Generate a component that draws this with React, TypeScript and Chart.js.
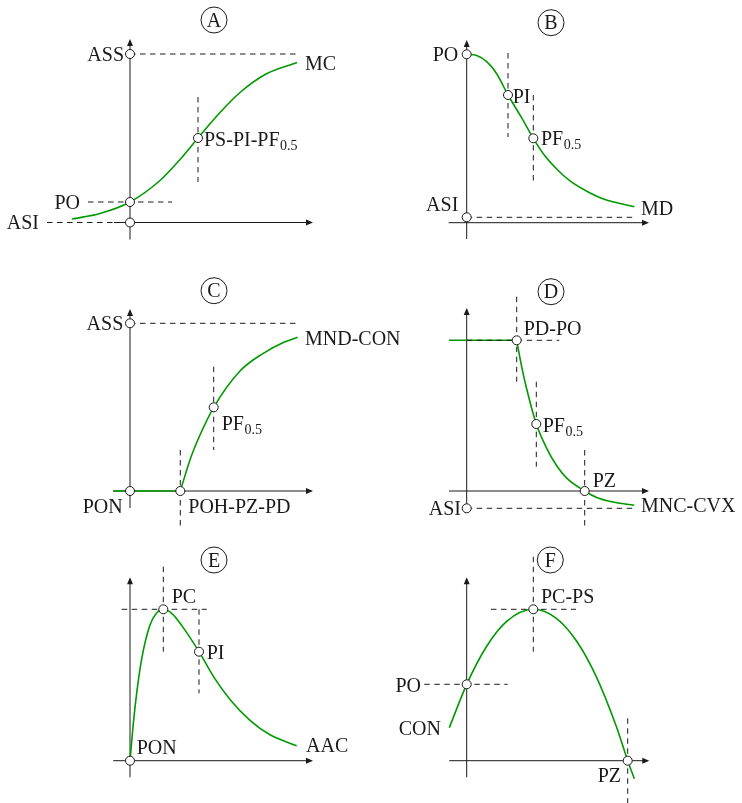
import React, { useEffect, useRef } from "react";
import { Chart, registerables } from "chart.js";

Chart.register(...registerables);

type P = { x: number; y: number };

// ---- Values (units of the drawing grid, origin at the axes' crossing) ----

// A: sigmoid between ASI and ASS
const A_CURVE: P[] = [
  { x: -5.8, y: 0.35 }, { x: -3, y: 0.9 }, { x: 0, y: 2.05 }, { x: 3, y: 4.2 },
  { x: 5, y: 6.3 }, { x: 6.8, y: 8.45 }, { x: 9, y: 11.0 }, { x: 11, y: 13.0 },
  { x: 13.6, y: 14.85 }, { x: 16.7, y: 16.0 },
];
const A_MARKERS: P[] = [{ x: 0, y: 16.85 }, { x: 0, y: 2.05 }, { x: 0, y: 0 }, { x: 6.8, y: 8.45 }];
const A_GUIDES: P[][] = [
  [{ x: 0, y: 16.85 }, { x: 16.8, y: 16.85 }],
  [{ x: -8.3, y: 0 }, { x: 0, y: 0 }],
  [{ x: -4.2, y: 2.05 }, { x: 4.2, y: 2.05 }],
  [{ x: 6.8, y: 12.55 }, { x: 6.8, y: 4.05 }],
];

// B: decreasing sigmoid from PO towards ASI
const B_CURVE: P[] = [
  { x: 0, y: 16.84 }, { x: 1, y: 16.72 }, { x: 2, y: 16.1 }, { x: 3, y: 14.9 },
  { x: 4.13, y: 12.77 }, { x: 5.43, y: 10.6 }, { x: 6.66, y: 8.44 }, { x: 7.76, y: 6.77 },
  { x: 9.1, y: 5.27 }, { x: 10.43, y: 4.1 }, { x: 12.1, y: 3.1 }, { x: 13.76, y: 2.34 },
  { x: 16.76, y: 1.6 },
];
const B_MARKERS: P[] = [{ x: 0, y: 16.84 }, { x: 4.13, y: 12.77 }, { x: 6.66, y: 8.44 }, { x: 0, y: 0.54 }];
const B_GUIDES: P[][] = [
  [{ x: 0, y: 0.54 }, { x: 16.73, y: 0.54 }],
  [{ x: 4.13, y: 16.97 }, { x: 4.13, y: 8.57 }],
  [{ x: 6.66, y: 12.77 }, { x: 6.66, y: 4.07 }],
];

// C: zero response until POH, then concave rise to ASS
const C_FLAT: P[] = [{ x: -1.7, y: 0 }, { x: 5.03, y: 0 }];
const C_CURVE: P[] = [
  { x: 5.03, y: 0 }, { x: 6.1, y: 3.4 }, { x: 7, y: 5.6 }, { x: 8.37, y: 8.37 },
  { x: 11, y: 12.0 }, { x: 13.33, y: 13.77 }, { x: 15.33, y: 14.85 }, { x: 16.77, y: 15.37 },
];
const C_MARKERS: P[] = [{ x: 0, y: 16.77 }, { x: 0, y: 0 }, { x: 5.03, y: 0 }, { x: 8.37, y: 8.37 }];
const C_GUIDES: P[][] = [
  [{ x: 0, y: 16.77 }, { x: 16.8, y: 16.77 }],
  [{ x: 5.03, y: 4.1 }, { x: 5.03, y: -3.9 }],
  [{ x: 8.37, y: 12.43 }, { x: 8.37, y: 4.1 }],
];

// D: plateau until PD, then convex decay below zero towards ASI
const D_FLAT: P[] = [{ x: -1.77, y: 15.07 }, { x: 5, y: 15.07 }];
const D_CURVE: P[] = [
  { x: 5, y: 15.07 }, { x: 5.5, y: 12.42 }, { x: 6, y: 10.2 }, { x: 6.96, y: 6.7 },
  { x: 8, y: 4.27 }, { x: 9, y: 2.53 }, { x: 10, y: 1.29 }, { x: 11.8, y: 0 },
  { x: 13, y: -0.65 }, { x: 14.5, y: -1.08 }, { x: 16.76, y: -1.43 },
];
const D_MARKERS: P[] = [{ x: 5, y: 15.07 }, { x: 6.96, y: 6.7 }, { x: 11.8, y: 0 }, { x: 0, y: -1.73 }];
const D_GUIDES: P[][] = [
  [{ x: 0, y: 15.07 }, { x: 9.26, y: 15.07 }],
  [{ x: 5, y: 19.43 }, { x: 5, y: 10.93 }],
  [{ x: 6.96, y: 10.93 }, { x: 6.96, y: 2.43 }],
  [{ x: 11.8, y: 4.1 }, { x: 11.8, y: -3.9 }],
  [{ x: 0, y: -1.73 }, { x: 16.73, y: -1.73 }],
];

// E: fast rise to PC, then slow decline
const E_CURVE: P[] = [
  { x: 0, y: 0 }, { x: 0.3, y: 3.39 }, { x: 0.7, y: 7.0 }, { x: 1.2, y: 10.35 },
  { x: 2, y: 13.56 }, { x: 2.7, y: 14.83 }, { x: 3.33, y: 15.14 }, { x: 4.2, y: 14.71 },
  { x: 5.2, y: 13.48 }, { x: 6.9, y: 10.9 }, { x: 8.5, y: 8.18 }, { x: 10, y: 6.13 },
  { x: 12, y: 4.04 }, { x: 14, y: 2.59 }, { x: 16.67, y: 1.5 },
];
const E_MARKERS: P[] = [{ x: 0, y: 0 }, { x: 3.33, y: 15.14 }, { x: 6.9, y: 10.9 }];
const E_GUIDES: P[][] = [
  [{ x: -0.83, y: 15.14 }, { x: 7.67, y: 15.14 }],
  [{ x: 3.33, y: 19.4 }, { x: 3.33, y: 10.9 }],
  [{ x: 6.9, y: 15.14 }, { x: 6.9, y: 6.74 }],
];

// F: concave arch through PO, peak PC-PS, crossing zero at PZ
const F_CURVE: P[] = [
  { x: -1.74, y: 3.3 }, { x: 0, y: 7.64 }, { x: 2, y: 11.45 }, { x: 4, y: 13.94 },
  { x: 6.66, y: 15.14 }, { x: 9, y: 14.21 }, { x: 11, y: 11.94 }, { x: 13, y: 8.31 },
  { x: 15, y: 3.32 }, { x: 16.1, y: 0 }, { x: 16.76, y: -1.8 },
];
const F_MARKERS: P[] = [{ x: 0, y: 7.64 }, { x: 6.66, y: 15.14 }, { x: 16.1, y: 0 }];
const F_GUIDES: P[][] = [
  [{ x: 2.43, y: 15.14 }, { x: 10.93, y: 15.14 }],
  [{ x: 6.66, y: 20.4 }, { x: 6.66, y: 10.9 }],
  [{ x: -4.24, y: 7.64 }, { x: 4.1, y: 7.64 }],
  [{ x: 16.1, y: 4.24 }, { x: 16.1, y: -4.23 }],
];

// ---- Layout ----

type Label = { text: string; sub?: string; x: number; y: number; align: "left" | "right" };
type Panel = {
  title: string;
  titleAt: P;
  left: number;
  top: number;
  width: number;
  height: number;
  originX: number;
  originY: number;
  xAxis: [number, number];
  yAxis: [number, number];
  curves: P[][];
  markers: P[];
  guides: P[][];
  labels: Label[];
};

const UNIT = 10; // pixels per grid unit
const COL = 371;
const GREEN = "rgb(0,153,0)";
const INK = "#1a1a1a";
const FONT = '"Liberation Serif", "Times New Roman", serif';
const FONT_SIZE = 20;
const SUB_SIZE = 14;

const PANELS: Panel[] = [
  {
    title: "A", titleAt: { x: 8.4, y: 20.25 }, left: 0, top: 0, width: 440, height: 268,
    originX: 130, originY: 222.5, xAxis: [-1.6, 18.3], yAxis: [-1.7, 18.35],
    curves: [A_CURVE], markers: A_MARKERS, guides: A_GUIDES,
    labels: [
      { text: "ASS", x: -0.6, y: 16.85, align: "right" },
      { text: "PO", x: -5.0, y: 2.05, align: "right" },
      { text: "ASI", x: -9.1, y: 0, align: "right" },
      { text: "MC", x: 17.5, y: 15.95, align: "left" },
      { text: "PS-PI-PF", sub: "0.5", x: 7.4, y: 8.3, align: "left" },
    ],
  },
  {
    title: "B", titleAt: { x: 8.43, y: 20.0 }, left: COL, top: 0, width: COL, height: 268,
    originX: 95.7, originY: 222.7, xAxis: [-1.8, 18.23], yAxis: [-1.63, 18.27],
    curves: [B_CURVE], markers: B_MARKERS, guides: B_GUIDES,
    labels: [
      { text: "PO", x: -0.84, y: 16.84, align: "right" },
      { text: "PI", x: 4.6, y: 12.6, align: "left" },
      { text: "PF", sub: "0.5", x: 7.43, y: 8.4, align: "left" },
      { text: "ASI", x: -0.84, y: 1.87, align: "right" },
      { text: "MD", x: 17.43, y: 1.44, align: "left" },
    ],
  },
  {
    title: "C", titleAt: { x: 8.4, y: 20.03 }, left: 0, top: 268, width: 440, height: 268,
    originX: 130, originY: 223, xAxis: [-1.7, 18.3], yAxis: [-1.7, 18.2],
    curves: [C_FLAT, C_CURVE], markers: C_MARKERS, guides: C_GUIDES,
    labels: [
      { text: "ASS", x: -0.67, y: 16.77, align: "right" },
      { text: "MND-CON", x: 17.5, y: 15.27, align: "left" },
      { text: "PF", sub: "0.5", x: 9.17, y: 6.77, align: "left" },
      { text: "PON", x: -0.73, y: -1.5, align: "right" },
      { text: "POH-PZ-PD", x: 5.83, y: -1.5, align: "left" },
    ],
  },
  {
    title: "D", titleAt: { x: 8.43, y: 19.93 }, left: COL, top: 268, width: COL, height: 268,
    originX: 95.7, originY: 223, xAxis: [-1.77, 18.23], yAxis: [-1.73, 18.3],
    curves: [D_FLAT, D_CURVE], markers: D_MARKERS, guides: D_GUIDES,
    labels: [
      { text: "PD-PO", x: 5.7, y: 16.27, align: "left" },
      { text: "PF", sub: "0.5", x: 7.6, y: 6.6, align: "left" },
      { text: "PZ", x: 12.6, y: 1.1, align: "left" },
      { text: "MNC-CVX", x: 17.43, y: -1.43, align: "left" },
      { text: "ASI", x: -0.57, y: -1.73, align: "right" },
    ],
  },
  {
    title: "E", titleAt: { x: 8.4, y: 20.07 }, left: 0, top: 536, width: 440, height: 267,
    originX: 130, originY: 224.7, xAxis: [-1.67, 18.3], yAxis: [-1.66, 18.34],
    curves: [E_CURVE], markers: E_MARKERS, guides: E_GUIDES,
    labels: [
      { text: "PC", x: 4.17, y: 16.47, align: "left" },
      { text: "PI", x: 7.67, y: 10.8, align: "left" },
      { text: "AAC", x: 17.6, y: 1.57, align: "left" },
      { text: "PON", x: 0.67, y: 1.34, align: "left" },
    ],
  },
  {
    title: "F", titleAt: { x: 8.36, y: 20.07 }, left: COL, top: 536, width: COL, height: 267,
    originX: 95.7, originY: 224.7, xAxis: [-1.74, 18.26], yAxis: [-1.66, 18.34],
    curves: [F_CURVE], markers: F_MARKERS, guides: F_GUIDES,
    labels: [
      { text: "PC-PS", x: 7.43, y: 16.47, align: "left" },
      { text: "PO", x: -4.57, y: 7.57, align: "right" },
      { text: "CON", x: -2.57, y: 3.24, align: "right" },
      { text: "PZ", x: 15.43, y: -1.43, align: "right" },
    ],
  },
];

// Axes with arrow tips, drawn underneath the datasets
function axesPlugin(panel: Panel) {
  return {
    id: "axes" + panel.title,
    beforeDatasetsDraw(chart: any) {
      const { ctx, scales } = chart;
      const sx = scales.x;
      const sy = scales.y;
      const x0 = sx.getPixelForValue(0);
      const y0 = sy.getPixelForValue(0);
      const xa = sx.getPixelForValue(panel.xAxis[0]);
      const xb = sx.getPixelForValue(panel.xAxis[1]);
      const ya = sy.getPixelForValue(panel.yAxis[0]);
      const yb = sy.getPixelForValue(panel.yAxis[1]);
      ctx.save();
      ctx.strokeStyle = INK;
      ctx.fillStyle = INK;
      ctx.lineWidth = 1;
      ctx.beginPath();
      ctx.moveTo(xa, y0);
      ctx.lineTo(xb - 5, y0);
      ctx.moveTo(x0, ya);
      ctx.lineTo(x0, yb + 5);
      ctx.stroke();
      ctx.beginPath();
      ctx.moveTo(xb, y0);
      ctx.lineTo(xb - 7, y0 - 3);
      ctx.lineTo(xb - 7, y0 + 3);
      ctx.closePath();
      ctx.fill();
      ctx.beginPath();
      ctx.moveTo(x0, yb);
      ctx.lineTo(x0 - 3, yb + 7);
      ctx.lineTo(x0 + 3, yb + 7);
      ctx.closePath();
      ctx.fill();
      ctx.restore();
    },
  };
}

// Point names and the circled panel letter
function labelsPlugin(panel: Panel) {
  return {
    id: "labels" + panel.title,
    afterDatasetsDraw(chart: any) {
      const { ctx, scales } = chart;
      const sx = scales.x;
      const sy = scales.y;
      const capHalf = FONT_SIZE * 0.33;
      ctx.save();
      ctx.fillStyle = INK;
      ctx.textBaseline = "alphabetic";
      ctx.textAlign = "left";
      for (const lb of panel.labels) {
        const px = sx.getPixelForValue(lb.x);
        const py = sy.getPixelForValue(lb.y) + capHalf;
        ctx.font = `${FONT_SIZE}px ${FONT}`;
        const mainW = ctx.measureText(lb.text).width;
        let subW = 0;
        if (lb.sub) {
          ctx.font = `${SUB_SIZE}px ${FONT}`;
          subW = ctx.measureText(lb.sub).width;
        }
        const start = lb.align === "right" ? px - mainW - subW : px;
        ctx.font = `${FONT_SIZE}px ${FONT}`;
        ctx.fillText(lb.text, start, py);
        if (lb.sub) {
          ctx.font = `${SUB_SIZE}px ${FONT}`;
          ctx.fillText(lb.sub, start + mainW + 0.5, py + 4);
        }
      }
      const cx = sx.getPixelForValue(panel.titleAt.x);
      const cy = sy.getPixelForValue(panel.titleAt.y);
      ctx.lineWidth = 1;
      ctx.strokeStyle = INK;
      ctx.beginPath();
      ctx.arc(cx, cy, 13, 0, Math.PI * 2);
      ctx.stroke();
      ctx.font = `${FONT_SIZE}px ${FONT}`;
      ctx.textAlign = "center";
      ctx.fillText(panel.title, cx, cy + capHalf);
      ctx.restore();
    },
  };
}

function PanelChart({ panel }: { panel: Panel }) {
  const ref = useRef<HTMLCanvasElement | null>(null);

  useEffect(() => {
    if (!ref.current) return;
    const datasets: any[] = [];
    datasets.push({
      data: panel.markers,
      showLine: false,
      pointRadius: 4.5,
      pointBorderWidth: 1,
      pointBackgroundColor: "#ffffff",
      pointBorderColor: INK,
      order: 0,
    });
    for (const g of panel.guides) {
      datasets.push({
        data: g,
        borderColor: INK,
        borderWidth: 1,
        borderDash: [5.5, 4.5],
        pointRadius: 0,
        order: 1,
      });
    }
    for (const c of panel.curves) {
      datasets.push({
        data: c,
        borderColor: GREEN,
        borderWidth: 1.6,
        cubicInterpolationMode: "monotone",
        pointRadius: 0,
        order: 2,
      });
    }
    const w = panel.width;
    const h = panel.height;
    const chart = new Chart(ref.current, {
      type: "line",
      data: { datasets },
      options: {
        animation: false,
        responsive: false,
        maintainAspectRatio: false,
        devicePixelRatio: 1,
        events: [],
        layout: { padding: 0, autoPadding: false },
        plugins: { legend: { display: false }, tooltip: { enabled: false } },
        scales: {
          x: {
            type: "linear",
            display: false,
            min: -panel.originX / UNIT,
            max: (w - panel.originX) / UNIT,
          },
          y: {
            type: "linear",
            display: false,
            min: -(h - panel.originY) / UNIT,
            max: panel.originY / UNIT,
          },
        },
      } as any,
      plugins: [axesPlugin(panel), labelsPlugin(panel)],
    });
    return () => chart.destroy();
  }, [panel]);

  return (
    <canvas
      ref={ref}
      width={panel.width}
      height={panel.height}
      style={{ position: "absolute", left: panel.left, top: panel.top, width: panel.width, height: panel.height }}
    />
  );
}

export default function App() {
  return (
    <div style={{ position: "absolute", left: 0, top: 0, width: 742, height: 803, background: "#ffffff" }}>
      {PANELS.map((p) => (
        <PanelChart key={p.title} panel={p} />
      ))}
    </div>
  );
}
